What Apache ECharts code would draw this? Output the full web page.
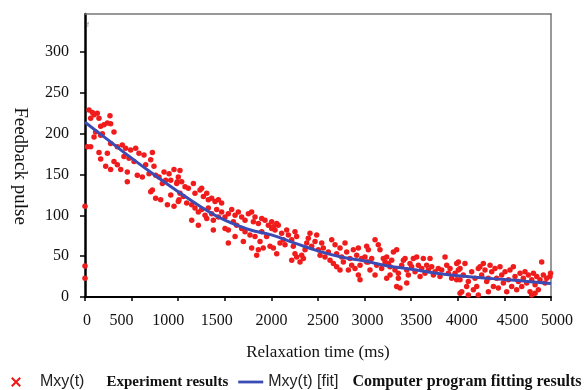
<!DOCTYPE html>
<html>
<head>
<meta charset="utf-8">
<script src="https://cdn.jsdelivr.net/npm/echarts@6/dist/echarts.min.js"></script>
<style>
html,body{margin:0;padding:0;background:#fff;}
#chart{width:586px;height:390px;}
</style>
</head>
<body>
<div id="chart"></div>
<script>
// ---- data ----
var xTicks = [0, 500, 1000, 1500, 2000, 2500, 3000, 3500, 4000, 4500, 5000];
var yTicks = [0, 50, 100, 150, 200, 250, 300];

var fitTime  = [0, 250, 500, 750, 1000, 1250, 1500, 1750, 2000, 2250, 2500, 2750, 3000, 3250, 3500, 3750, 4000, 4250, 4500, 4750, 5000];
var fitPulse = [214, 192, 170, 149, 129, 110, 94, 83, 76, 66, 56.5, 49, 44, 38, 34, 29.5, 26, 23.5, 21.5, 19, 16.5];

var experimentPoints = [
[0,111],[0,38],[0,23],
[43,229],[79,226],[132,225],[61,219],[97,223],[150,219],[268,222],[204,211],[168,209],[240,213],[275,212],[114,202],[186,200],[311,202],[97,196],[168,198],[61,184],[25,184],[150,177],[168,169],[275,188],[240,176],[347,184],[400,186],[436,182],[490,180],[544,182],[418,172],[472,170],[526,166],[579,176],[633,174],[723,177],[705,168],[651,162],[740,160],[311,166],[347,162],[275,156],[222,160],[383,156],[454,153],[454,141],[561,149],[615,147],[687,151],[758,149],[794,147],[848,153],[902,151],[955,156],[866,143],[830,139],[920,143],[991,141],[705,129],[758,121],[812,119],[723,131],[920,125],[884,113],[955,111],[1009,119],
[1019,155],[1001,147],[1037,141],[984,139],[1073,135],[1109,133],[1019,127],[1055,123],[1001,117],[1091,115],[1145,113],[1163,139],[1180,127],[1234,131],[1252,133],[1270,123],[1306,127],[1323,119],[1359,121],[1395,117],[1431,119],[1466,115],[1180,109],[1216,104],[1252,107],[1288,100],[1323,109],[1359,102],[1413,107],[1431,98],[1145,94],[1216,88],[1306,96],[1377,94],[1377,82],[1466,104],[1502,98],[1538,102],[1574,107],[1610,100],[1645,104],[1681,98],[1717,94],[1753,102],[1788,104],[1824,98],[1806,92],[1860,90],[1896,96],[1931,94],[1967,88],[2003,84],[1592,92],[1627,88],[1502,84],[1538,82],[1610,74],[1681,84],[1717,80],[1770,76],[1824,74],[1896,80],[1949,74],[1878,68],[1699,68],[1788,60],[1538,66],[1860,58],[1842,51],[1913,60],[1985,62],
[2003,92],[2021,86],[2057,90],[2039,82],[2074,88],[2021,60],[2057,53],[2110,78],[2128,70],[2092,66],[2146,64],[2164,82],[2182,76],[2218,70],[2253,80],[2271,74],[2235,62],[2253,53],[2218,45],[2271,49],[2325,51],[2307,43],[2343,47],[2361,58],[2379,66],[2414,78],[2396,72],[2432,62],[2468,68],[2486,76],[2504,58],[2540,66],[2557,60],[2522,51],[2575,49],[2611,55],[2629,45],[2647,70],[2683,64],[2700,53],[2736,60],[2754,49],[2790,66],[2772,43],[2808,55],[2843,47],[2861,39],[2879,58],[2915,51],[2933,60],[2969,47],[2951,39],[3004,49],[3022,43],[2826,33],[2897,35],[2933,27],[2951,21],[2700,37],[2736,33],[2665,41],[3040,58],
[3022,62],[3040,43],[3076,47],[3058,33],[3112,27],[3147,64],[3165,58],[3130,39],[3183,35],[3201,47],[3219,43],[3237,49],[3255,41],[3273,37],[3291,45],[3309,55],[3344,58],[3326,33],[3362,29],[3362,23],[3398,39],[3416,45],[3434,47],[3452,33],[3469,27],[3487,41],[3505,37],[3523,47],[3541,31],[3559,49],[3577,39],[3595,25],[3613,35],[3630,47],[3648,29],[3666,39],[3684,33],[3702,47],[3720,37],[3738,27],[3756,31],[3791,35],[3809,25],[3827,33],[3863,49],[3881,39],[3899,29],[3917,35],[3934,23],[3970,29],[3988,41],[4006,33],[4024,21],[4024,4.5],[3344,13],[3380,11],[3452,17],[3273,27],[3237,23],[3112,70],
[4006,43],[4024,35],[3988,21],[4059,27],[4077,41],[4095,13],[4113,19],[4149,31],[4167,9],[4185,23],[4203,13],[4220,35],[4238,37],[4256,27],[4274,41],[4292,33],[4310,19],[4328,23],[4328,6.5],[4346,39],[4364,31],[4382,13],[4399,35],[4417,23],[4435,11],[4453,37],[4471,27],[4489,17],[4507,31],[4525,6.5],[4543,21],[4560,33],[4578,13],[4596,37],[4614,25],[4632,9],[4650,19],[4668,29],[4686,13],[4703,23],[4721,31],[4739,17],[4757,27],[4775,6.5],[4793,21],[4811,29],[4829,15],[4847,25],[4864,9],[4882,21],[4900,43],[4918,27],[4936,17],[4954,23],[4989,25],[4995,29],[4113,2.5],[4220,2.5],[4793,2.5],[4829,4.5],[4042,6.5]
];

var seriesNames = ['Mxy(t)', 'Mxy(t) [fit]'];
var legendNotes = ['Experiment results', 'Computer program fitting results'];
var xAxisTitle = 'Relaxation time (ms)';
var yAxisTitle = 'Feedback pulse';

// ---- chart ----
var fitData = fitTime.map(function (t, i) { return [t, fitPulse[i]]; });
var serif = '"Liberation Serif", "Times New Roman", serif';
var sans = '"Liberation Sans", Arial, sans-serif';

var chart = echarts.init(document.getElementById('chart'), null, { renderer: 'canvas' });

// small horizontal nudges of the x tick labels as printed in the reference
var xLabelShift = { 0: 2, 500: -10, 1000: -10, 1500: -8, 2000: 0, 2500: 5, 3000: 3, 3500: 5, 4000: 4, 4500: 8, 5000: 6 };
function shiftKey(s) { return 's' + (s < 0 ? 'm' + (-s) : s); }
var xRich = {};
Object.keys(xLabelShift).forEach(function (k) {
  var s = xLabelShift[k];
  xRich[shiftKey(s)] = {
    fontFamily: serif, fontSize: 16, color: '#111',
    padding: s >= 0 ? [0, 0, 0, 2 * s] : [0, -2 * s, 0, 0]
  };
});

var hiddenAxisParts = {
  axisTick: { show: false }, axisLabel: { show: false }, splitLine: { show: false }
};

var option = {
  backgroundColor: '#ffffff',
  animation: false,
  grid: { left: 85, right: 35, top: 14, bottom: 93, show: false },
  xAxis: [
    {
      type: 'value',
      min: 0, max: 5000, interval: 500,
      name: xAxisTitle,
      nameLocation: 'middle',
      nameGap: 47,
      nameTextStyle: { fontFamily: serif, fontSize: 17, color: '#111' },
      axisLine: { show: true, onZero: false, lineStyle: { color: '#000', width: 2 } },
      axisTick: { show: true, length: 4, inside: false, lineStyle: { color: '#000', width: 1.5 } },
      splitLine: { show: false },
      axisLabel: {
        margin: 16,
        fontFamily: serif, fontSize: 16, color: '#111',
        formatter: function (v) { return '{' + shiftKey(xLabelShift[v] || 0) + '|' + v + '}'; },
        rich: xRich
      }
    },
    Object.assign({
      type: 'value', position: 'top', min: 0, max: 5000,
      axisLine: { show: true, onZero: false, lineStyle: { color: '#777', width: 1.5 } }
    }, hiddenAxisParts)
  ],
  yAxis: [
    {
      type: 'value',
      min: 0, max: 346.5,
      axisLine: { show: true, onZero: false, lineStyle: { color: '#000', width: 2.5 } },
      axisTick: { show: true, length: 5, customValues: yTicks, lineStyle: { color: '#000', width: 1.5 } },
      splitLine: { show: false },
      axisLabel: {
        margin: 16,
        customValues: yTicks,
        fontFamily: serif, fontSize: 16, color: '#111'
      }
    },
    Object.assign({
      type: 'value', position: 'right', min: 0, max: 346.5,
      axisLine: { show: true, onZero: false, lineStyle: { color: '#777', width: 1.5 } }
    }, hiddenAxisParts)
  ],
  legend: {
    left: 10, top: 374, padding: 0, width: 586, orient: 'horizontal',
    itemWidth: 25, itemHeight: 14, itemGap: 10,
    selectedMode: false,
    data: [
      { name: seriesNames[0], icon: 'path://M0,0M25,14M1,3.5L2.5,2L6,5.5L9.5,2L11,3.5L7.5,7L11,10.5L9.5,12L6,8.5L2.5,12L1,10.5L4.5,7Z' },
      { name: seriesNames[1], icon: 'path://M0,0M25,14M0,5.6L25,5.6L25,8.4L0,8.4Z' }
    ],
    formatter: function (name) {
      if (name === seriesNames[0]) return '{a|' + name + '}{g1|}{b|' + legendNotes[0] + '}';
      return '{a|' + name + '}{g2|}{c|' + legendNotes[1] + '}';
    },
    textStyle: {
      rich: {
        a: { fontFamily: sans, fontSize: 16, color: '#222' },
        b: { fontFamily: serif, fontSize: 15, fontWeight: 'bold', color: '#111' },
        c: { fontFamily: serif, fontSize: 16, fontWeight: 'bold', color: '#111' },
        g1: { width: 22 },
        g2: { width: 14 }
      }
    }
  },
  graphic: [
    {
      type: 'text', x: 20, y: 166, rotation: -Math.PI / 2,
      style: { text: yAxisTitle, fontFamily: serif, fontSize: 19, fill: '#111', align: 'center', verticalAlign: 'middle' }
    },
    {
      type: 'text', x: 88, y: 25,
      style: { text: 'f', fontFamily: sans, fontSize: 7, fill: '#999', align: 'center', verticalAlign: 'middle' }
    }
  ],
  series: [
    {
      name: seriesNames[0],
      type: 'scatter',
      data: experimentPoints,
      symbol: 'circle',
      symbolSize: 5.5,
      itemStyle: { color: '#f01c1c', opacity: 1 },
      z: 2
    },
    {
      name: seriesNames[1],
      type: 'line',
      data: fitData,
      smooth: true,
      showSymbol: false,
      symbol: 'none',
      itemStyle: { color: '#3a4cb4' },
      lineStyle: { color: '#3a4cb4', width: 3 },
      z: 3
    }
  ]
};

chart.setOption(option);
</script>
</body>
</html>
